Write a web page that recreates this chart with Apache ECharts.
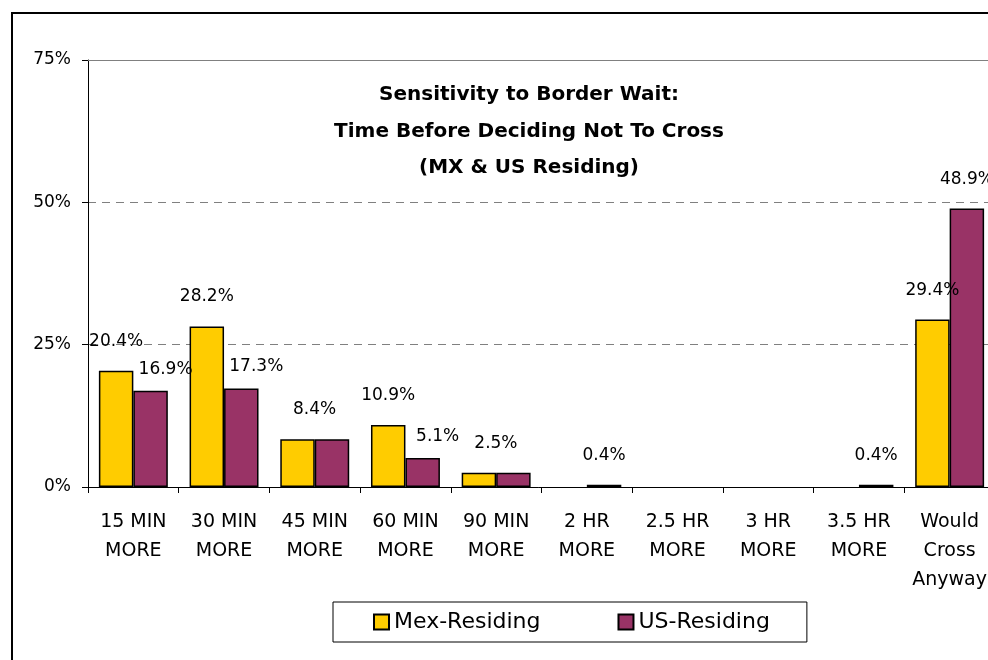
<!DOCTYPE html>
<html>
<head>
<meta charset="utf-8">
<script src="https://cdn.jsdelivr.net/npm/echarts@6/dist/echarts.min.js"></script>
<style>
html,body{margin:0;padding:0;background:#fff;overflow:hidden;}
#chart{width:988px;height:660px;}
</style>
</head>
<body>
<div id="chart"></div>
<script>
const categories = ['15 MIN\nMORE','30 MIN\nMORE','45 MIN\nMORE','60 MIN\nMORE','90 MIN\nMORE','2 HR\nMORE','2.5 HR\nMORE','3 HR\nMORE','3.5 HR\nMORE','Would\nCross\nAnyway'];
const mexResiding = [20.4, 28.2, 8.4, 10.9, 2.5, 0, 0, 0, 0, 29.4];
const usResiding  = [16.9, 17.3, 8.4, 5.1, 2.5, 0.4, 0, 0, 0.4, 48.9];
const yTicks = [0, 25, 50, 75];
const titleLines = ['Sensitivity to Border Wait:', 'Time Before Deciding Not To Cross', '(MX & US Residing)'];

const FONT = 'DejaVu Sans';
const fmt = v => v.toFixed(1) + '%';

const mexData = mexResiding.map((v, i) => {
  const u = usResiding[i];
  const off = (v === u) ? [17, 0] : [0, 0];
  return {value: v, label: {show: v > 0, offset: off}, itemStyle: v > 0 ? {} : {borderWidth: 0}};
});
const usData = usResiding.map((v, i) => {
  const m = mexResiding[i];
  const show = v > 0 && v !== m;
  const off = (m > v && m > 0) ? [15, 8] : [0, 0];
  return {value: v, label: {show: show, offset: off}, itemStyle: v > 0 ? {} : {borderWidth: 0}};
});

const chart = echarts.init(document.getElementById('chart'));
chart.setOption({
  animation: false,
  backgroundColor: '#fff',
  textStyle: {fontFamily: FONT, color: '#000'},
  graphic: [
    {type: 'rect', shape: {x: 12, y: 13, width: 1200, height: 900},
     style: {fill: 'none', stroke: '#000', lineWidth: 2}, silent: true, z: 100},
    {type: 'text', x: 529, y: 77, z: 100,
     style: {text: titleLines.join('\n'), textAlign: 'center', fontFamily: FONT, fontWeight: 'bold',
             fontSize: 20, lineHeight: 36.5, fill: '#000'}}
  ],
  grid: {left: 88, width: 907, top: 60, height: 427, show: false, outerBoundsMode: 'none', containLabel: false},
  legend: {
    left: 333, top: 602, orient: 'horizontal',
    padding: [9, 37, 9, 40], itemGap: 77,
    itemWidth: 15, itemHeight: 15, icon: 'rect',
    borderColor: '#000', borderWidth: 1,
    textStyle: {fontFamily: FONT, fontSize: 22, color: '#000'},
    data: ['Mex-Residing', 'US-Residing']
  },
  xAxis: {
    type: 'category', data: categories,
    axisLine: {lineStyle: {color: '#000', width: 1}},
    axisTick: {show: true, length: 6, lineStyle: {color: '#000'}},
    axisLabel: {fontFamily: FONT, fontSize: 19, color: '#000', lineHeight: 29, margin: 21, interval: 0}
  },
  yAxis: {
    type: 'value', min: 0, max: 75, interval: 25,
    axisLine: {show: true, lineStyle: {color: '#000', width: 1}},
    axisTick: {show: true, length: 6, lineStyle: {color: '#000'}},
    axisLabel: {fontFamily: FONT, fontSize: 17, color: '#000', margin: 17,
                formatter: v => yTicks.includes(v) ? v + '%' : ''},
    splitLine: {show: true, lineStyle: {color: '#808080', type: [8, 6], width: 1}}
  },
  series: [
    {name: 'Mex-Residing', type: 'bar', data: mexData, barGap: '0%', barCategoryGap: '24%',
     itemStyle: {color: '#FFCC00', borderColor: '#000', borderWidth: 1.5},
     label: {position: 'top', distance: 21, fontFamily: FONT, fontSize: 17, color: '#000',
             formatter: p => fmt(p.value)},
     markLine: {silent: true, symbol: 'none', label: {show: false},
                lineStyle: {color: '#808080', type: 'solid', width: 1},
                data: [{yAxis: yTicks[yTicks.length - 1]}]}},
    {name: 'US-Residing', type: 'bar', data: usData,
     itemStyle: {color: '#993366', borderColor: '#000', borderWidth: 1.5},
     label: {position: 'top', distance: 21, fontFamily: FONT, fontSize: 17, color: '#000',
             formatter: p => fmt(p.value)}}
  ]
});
</script>
</body>
</html>
